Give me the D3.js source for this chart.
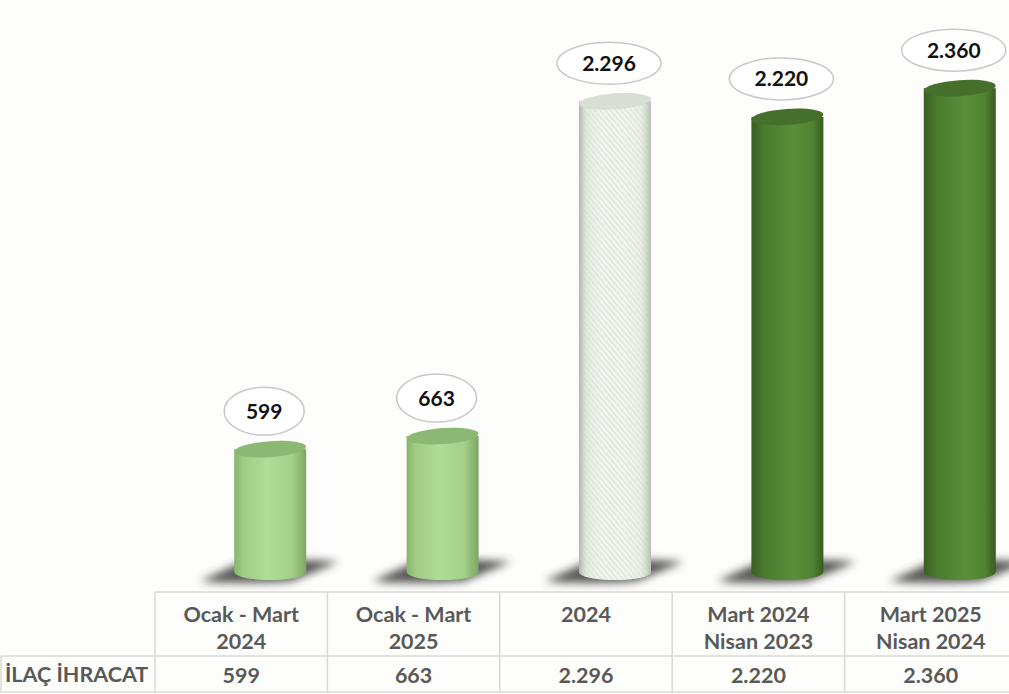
<!DOCTYPE html>
<html>
<head>
<meta charset="utf-8">
<script src="https://cdn.jsdelivr.net/npm/d3@7/dist/d3.min.js"></script>
<style>
  html, body { margin: 0; padding: 0; background: #fdfdfb; }
  svg { display: block; }
</style>
</head>
<body>
<div id="chart"></div>
<script>
// İlaç ihracatı – cylinder columns over a data table.

const categories = ['c1', 'c2', 'c3', 'c4', 'c5'];
const headerLines = [
    ['Ocak - Mart', '2024'],
    ['Ocak - Mart', '2025'],
    ['2024'],
    ['Mart 2024', 'Nisan 2023'],
    ['Mart 2025', 'Nisan 2024'],
];
const values = [599, 663, 2296, 2220, 2360];
const valueLabels = ['599', '663', '2.296', '2.220', '2.360'];
const rowLabel = 'İLAÇ İHRACAT';

// style per column (not data)
const kinds = ['light', 'light', 'hatch', 'dark', 'dark'];

const W = 1009, H = 694;
const FONT = 'Lato, "Open Sans", sans-serif';
const GRID = '#d9d9d9';
const TEXT = '#595959';

const table = { left: 155, right: 1017, top: 592, mid: 656, bottom: 693 };
const BASE_Y = 572;
const RX = 36, RY = 8;
const BAR_SHIFT = 29;

const svg = d3.select('#chart').append('svg')
    .attr('width', W).attr('height', H)
    .attr('viewBox', `0 0 ${W} ${H}`);

svg.append('rect').attr('width', W).attr('height', H).attr('fill', '#fdfdfb');

const x = d3.scaleBand().domain(categories).range([table.left, table.right]).padding(0);
const y = d3.scaleLinear().domain([0, 2400]).range([BASE_Y, BASE_Y - 2400 * 0.205]);

// ---- defs: gradients, hatch, blur
const defs = svg.append('defs');

function hGrad(id, stops) {
    const g = defs.append('linearGradient').attr('id', id)
        .attr('x1', '0%').attr('x2', '100%').attr('y1', '0%').attr('y2', '0%');
    stops.forEach(([o, c, a]) => g.append('stop').attr('offset', o).attr('stop-color', c)
        .attr('stop-opacity', a === undefined ? 1 : a));
}
hGrad('g-light', [['0%', '#86b56a'], ['12%', '#9fcb83'], ['45%', '#b1dc96'], ['80%', '#a4d088'], ['100%', '#7ea663']]);
hGrad('g-dark', [['0%', '#395f22'], ['18%', '#4a7a2e'], ['58%', '#5b8f3a'], ['85%', '#508331'], ['100%', '#375d20']]);
hGrad('g-hatch', [['0%', '#a9b3a6', 0.95], ['10%', '#d6ded3', 0.6], ['45%', '#ffffff', 0], ['85%', '#dfe5dc', 0.4], ['100%', '#b3bcb0', 0.95]]);

const pat = defs.append('pattern').attr('id', 'hatch')
    .attr('patternUnits', 'userSpaceOnUse').attr('width', 4).attr('height', 4)
    .attr('patternTransform', 'rotate(-40)');
pat.append('rect').attr('width', 4).attr('height', 4).attr('fill', '#f1f6ef');
pat.append('rect').attr('width', 1.3).attr('height', 4).attr('fill', '#d9e1d6');

defs.append('filter').attr('id', 'blur').attr('x', '-50%').attr('y', '-100%')
    .attr('width', '200%').attr('height', '300%')
    .append('feGaussianBlur').attr('stdDeviation', 4);

const topFill = { light: '#8db873', dark: '#456f2a', hatch: '#d8ded5' };
const bodyFill = { light: 'url(#g-light)', dark: 'url(#g-dark)', hatch: 'url(#hatch)' };

const bars = categories.map((c, i) => ({
    c, v: values[i], label: valueLabels[i], kind: kinds[i],
    cx: x(c) + x.bandwidth() / 2 + BAR_SHIFT,
    top: y(values[i]),
}));

// ---- shadows
svg.append('g').selectAll('path').data(bars).enter().append('path')
    .attr('d', (d) => {
        const cx = d.cx;
        return `M${cx - 70},${BASE_Y + 9} C${cx - 50},${BASE_Y + 12} ${cx + 10},${BASE_Y + 11} ${cx + 22},${BASE_Y + 9}
                L${cx + 68},${BASE_Y - 10} C${cx + 40},${BASE_Y - 13} ${cx - 10},${BASE_Y - 12} ${cx - 28},${BASE_Y - 10} Z`;
    })
    .attr('fill', '#3a3a3a')
    .attr('opacity', 0.85)
    .attr('filter', 'url(#blur)');

// ---- cylinders
const cyl = svg.append('g').selectAll('g').data(bars).enter().append('g');

const bodyPath = (d) => `M${d.cx - RX},${d.top} L${d.cx - RX},${BASE_Y}
    A${RX},${RY} 0 0 0 ${d.cx + RX},${BASE_Y} L${d.cx + RX},${d.top} Z`;

cyl.append('path').attr('d', bodyPath).attr('fill', (d) => bodyFill[d.kind]);
cyl.filter((d) => d.kind === 'hatch').append('path')
    .attr('d', bodyPath).attr('fill', 'url(#g-hatch)');

cyl.append('ellipse')
    .attr('cx', (d) => d.cx).attr('cy', (d) => d.top)
    .attr('rx', RX).attr('ry', RY)
    .attr('transform', (d) => `rotate(-4 ${d.cx} ${d.top})`)
    .attr('fill', (d) => topFill[d.kind]);

// ---- callout labels
const lab = svg.append('g').selectAll('g').data(bars).enter().append('g')
    .attr('transform', (d) => `translate(${d.cx - 6},${d.top - 38})`);
lab.append('ellipse')
    .attr('rx', (d) => d.label.length > 3 ? 52 : 40)
    .attr('ry', (d) => d.label.length > 3 ? 21 : 24)
    .attr('fill', '#ffffff')
    .attr('stroke', '#c8c8c8').attr('stroke-width', 1.5);
lab.append('text')
    .attr('text-anchor', 'middle').attr('dy', '0.36em')
    .attr('font-family', FONT).attr('font-weight', 700).attr('font-size', 21)
    .attr('fill', '#111')
    .text((d) => d.label);

// ---- table
const grid = svg.append('g').attr('stroke', GRID).attr('stroke-width', 1.5);
grid.append('line').attr('x1', table.left).attr('x2', W).attr('y1', table.top).attr('y2', table.top);
grid.append('line').attr('x1', 1).attr('x2', W).attr('y1', table.mid).attr('y2', table.mid);
grid.append('line').attr('x1', 1).attr('x2', W).attr('y1', table.bottom - 1).attr('y2', table.bottom - 1);
grid.append('line').attr('x1', 1).attr('x2', 1).attr('y1', table.mid).attr('y2', table.bottom);
grid.selectAll('line.v').data(categories).enter().append('line').attr('class', 'v')
    .attr('x1', (c) => x(c)).attr('x2', (c) => x(c))
    .attr('y1', table.top).attr('y2', table.bottom);

const txt = svg.append('g')
    .attr('font-family', FONT).attr('font-weight', 700).attr('font-size', 21.5)
    .attr('fill', TEXT).attr('text-anchor', 'middle');

categories.forEach((c, i) => {
    const cx = x(c) + x.bandwidth() / 2;
    headerLines[i].forEach((line, j) => {
        txt.append('text').attr('x', cx).attr('y', 614 + j * 27).attr('dy', '0.36em').text(line);
    });
    txt.append('text').attr('x', cx).attr('y', 675).attr('dy', '0.36em').text(valueLabels[i]);
});
txt.append('text').attr('x', 5).attr('y', 674).attr('dy', '0.36em')
    .attr('text-anchor', 'start').text(rowLabel);
</script>
</body>
</html>
